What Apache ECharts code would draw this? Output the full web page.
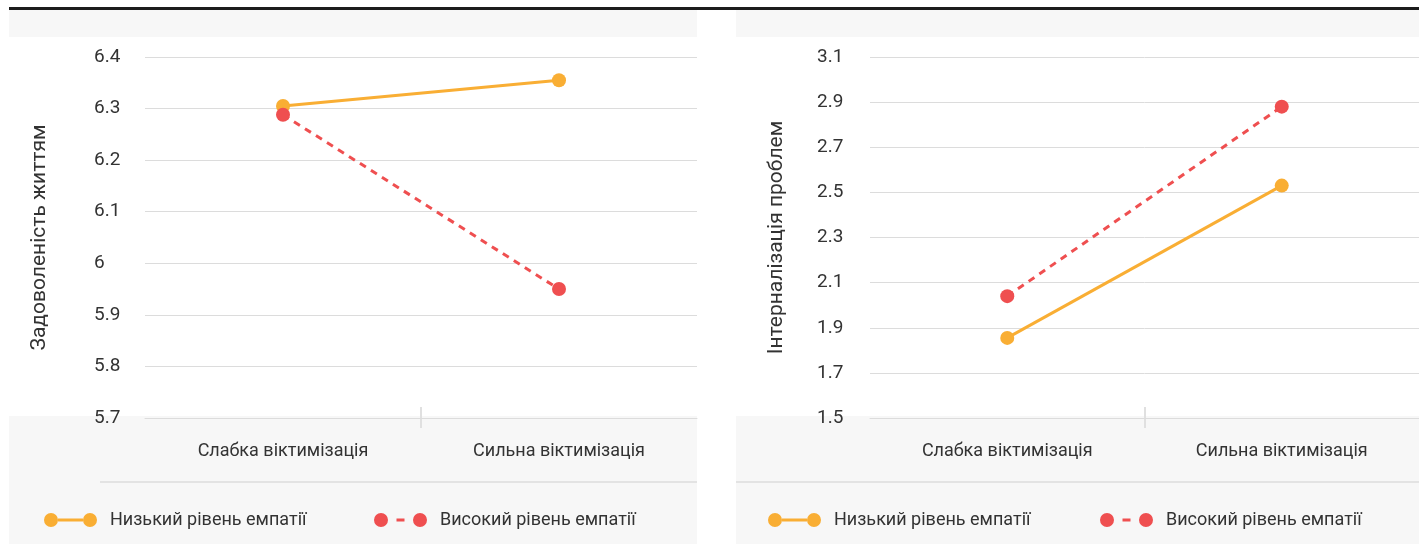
<!DOCTYPE html>
<html>
<head>
<meta charset="utf-8">
<title>Емпатія та віктимізація</title>
<script src="https://cdn.jsdelivr.net/npm/echarts@6/dist/echarts.min.js"></script>
<style>
  html,
  body {
    margin: 0;
    padding: 0;
    background: #fff;
  }
  .wrap {
    position: relative;
    width: 1419px;
    height: 544px;
    overflow: hidden;
  }
  .top-line {
    position: absolute;
    left: 9px;
    right: 0;
    top: 7px;
    height: 3px;
    background: #1c1c1c;
  }
  .panel {
    position: absolute;
    top: 10px;
    bottom: 0;
  }
  .panel .head {
    position: absolute;
    left: 0;
    right: 0;
    top: 0;
    height: 27px;
    background: #f7f7f7;
  }
  .panel .foot {
    position: absolute;
    left: 0;
    right: 0;
    top: 406px;
    bottom: 0;
    background: #f7f7f7;
  }
  .panel .sep {
    position: absolute;
    right: 0;
    top: 471px;
    height: 2px;
    background: #e3e3e3;
  }
  #chart {
    position: absolute;
    left: 0;
    top: 0;
    width: 1419px;
    height: 544px;
  }
</style>
</head>
<body>
<div class="wrap">
  <div class="top-line"></div>
  <div class="panel" style="left: 9px; width: 688px">
    <div class="head"></div>
    <div class="foot"></div>
    <div class="sep" style="left: 91px"></div>
  </div>
  <div class="panel" style="left: 736px; right: 0">
    <div class="head"></div>
    <div class="foot"></div>
    <div class="sep" style="left: 0"></div>
  </div>
  <div id="chart"></div>
</div>
<script>
// categories + series
const categories = ['Слабка віктимізація', 'Сильна віктимізація']
const seriesNames = ['Низький рівень емпатії', 'Високий рівень емпатії']
const axisTitles = ['Задоволеність життям', 'Інтерналізація проблем']

// ліва панель
const lowEmpathySatisfaction = [6.305, 6.355]
const highEmpathySatisfaction = [6.288, 5.95]
// права панель
const lowEmpathyInternal = [1.855, 2.53]
const highEmpathyInternal = [2.04, 2.88]

const yTicksInternal = [1.5, 1.7, 1.9, 2.1, 2.3, 2.5, 2.7, 2.9, 3.1]

const ORANGE = '#f9ae34'
const RED = '#ef4f50'
const TEXT = '#333'
const LINE_GRAY = '#dcdcdc'
const FONT = 'Roboto, sans-serif'

// іконки легенди: коло - лінія - коло
const solidIcon =
  'path://M0,7A7,7,0,1,1,14,7A7,7,0,1,1,0,7ZM39,7A7,7,0,1,1,53,7A7,7,0,1,1,39,7ZM14,5.5L39,5.5L39,8.5L14,8.5Z'
const dashIcon =
  'path://M0,7A7,7,0,1,1,14,7A7,7,0,1,1,0,7ZM39,7A7,7,0,1,1,53,7A7,7,0,1,1,39,7ZM22.5,5.5L30.5,5.5L30.5,8.5L22.5,8.5Z'

const chart = echarts.init(document.getElementById('chart'))

function xAxisFor(gridIndex) {
  return {
    type: 'category',
    gridIndex,
    data: categories,
    boundaryGap: true,
    axisLine: { show: true, lineStyle: { color: LINE_GRAY, width: 1 } },
    axisTick: { show: false },
    axisLabel: {
      color: TEXT,
      fontSize: 18,
      fontFamily: FONT,
      margin: 24,
    },
    splitLine: { show: false },
  }
}

// маленька риска між категоріями (окрема сітка під віссю)
function dividerAxis(gridIndex) {
  return {
    type: 'category',
    gridIndex,
    data: categories,
    boundaryGap: true,
    axisLine: { show: false },
    axisTick: { show: false },
    axisLabel: { show: false },
    splitLine: {
      show: true,
      showMinLine: false,
      showMaxLine: false,
      lineStyle: { color: '#e0e0e0', width: 2 },
    },
  }
}

function hiddenY(gridIndex) {
  return { type: 'value', gridIndex, min: 0, max: 1, show: false }
}

function yLabel(margin, extra) {
  return Object.assign(
    {
      color: TEXT,
      fontSize: 19,
      fontFamily: FONT,
      align: 'left',
      margin,
    },
    extra,
  )
}

function yAxisFor(gridIndex, name, nameGap, extra) {
  return Object.assign(
    {
      type: 'value',
      gridIndex,
      name,
      nameLocation: 'middle',
      nameRotate: 90,
      nameGap,
      nameTextStyle: { color: TEXT, fontSize: 21, fontFamily: FONT },
      axisLine: { show: false },
      axisTick: { show: false },
      splitLine: { show: true, lineStyle: { color: LINE_GRAY, width: 1 } },
    },
    extra,
  )
}

function lineSeries(name, data, axisIndex, color, dashed) {
  return {
    name,
    type: 'line',
    xAxisIndex: axisIndex,
    yAxisIndex: axisIndex,
    data,
    symbol: 'circle',
    symbolSize: 14,
    color,
    lineStyle: { color, width: 3, type: dashed ? [7, 6] : 'solid' },
    itemStyle: { color },
    emphasis: { disabled: true },
    z: dashed ? 3 : 2,
  }
}

function legendFor(name, icon, left) {
  return {
    data: [{ name, icon }],
    left,
    top: 511,
    padding: 0,
    itemWidth: 53,
    itemHeight: 14,
    selectedMode: false,
    textStyle: {
      color: TEXT,
      fontSize: 18,
      fontFamily: FONT,
      padding: [0, 0, 0, 8],
    },
  }
}

const options = {
  animation: false,
  grid: [
    { left: 145, right: 722, top: 57, bottom: 126 },
    { left: 870, right: 0, top: 57, bottom: 126 },
    { left: 145, right: 722, top: 407, height: 21 },
    { left: 870, right: 0, top: 407, height: 21 },
  ],
  xAxis: [xAxisFor(0), xAxisFor(1), dividerAxis(2), dividerAxis(3)],
  yAxis: [
    yAxisFor(0, axisTitles[0], 95, {
      min: 5.7,
      max: 6.4,
      interval: 0.1,
      axisLabel: yLabel(51),
    }),
    yAxisFor(1, axisTitles[1], 83, {
      min: 1.5,
      max: 3.1,
      axisLabel: yLabel(53, { customValues: yTicksInternal }),
      axisTick: { show: false, customValues: yTicksInternal },
    }),
    hiddenY(2),
    hiddenY(3),
  ],
  legend: [
    legendFor(seriesNames[0], solidIcon, 44),
    legendFor(seriesNames[1], dashIcon, 374),
    legendFor(seriesNames[0], solidIcon, 768),
    legendFor(seriesNames[1], dashIcon, 1100),
  ],
  series: [
    lineSeries(seriesNames[0], lowEmpathySatisfaction, 0, ORANGE, false),
    lineSeries(seriesNames[1], highEmpathySatisfaction, 0, RED, true),
    lineSeries(seriesNames[0], lowEmpathyInternal, 1, ORANGE, false),
    lineSeries(seriesNames[1], highEmpathyInternal, 1, RED, true),
  ],
}

chart.setOption(options)
</script>
</body>
</html>
